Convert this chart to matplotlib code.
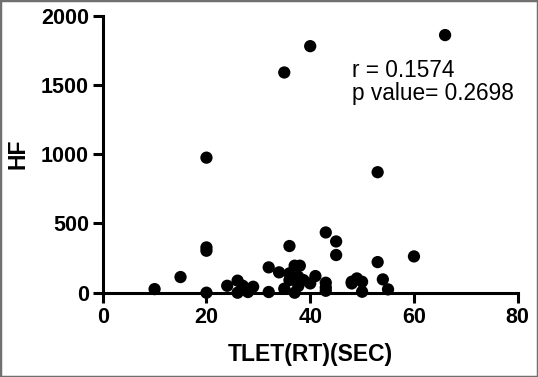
import numpy as np
import matplotlib
matplotlib.use('Agg')
import matplotlib.pyplot as plt
from matplotlib.patches import Rectangle

# values
tlet = [66, 40, 35, 20, 53, 43, 45, 36, 20, 20, 45, 60, 53, 15, 10, 20,
        32, 34, 37, 38, 36, 36, 37.7, 38.7, 40, 41, 43, 43, 43,
        24, 26, 26, 27, 28, 29, 32, 35, 37, 37.7, 48, 49, 50, 48, 50, 54, 55]
hf = [1860, 1780, 1590, 975, 870, 435, 370, 337, 327, 303, 272, 262, 221, 113, 26, 0,
      183, 147, 195, 195, 140, 91, 115, 91, 67, 120, 72, 38, 14,
      50, 87, 0, 50, 5, 43, 5, 29, 0, 48, 79, 103, 79, 67, 7, 96, 24]
x_ticks = [0, 20, 40, 60, 80]
y_ticks = [0, 500, 1000, 1500, 2000]
r_text = "r = 0.1574"
p_text = "p value= 0.2698"

plt.rcParams['font.family'] = ['Liberation Sans', 'DejaVu Sans']

fig = plt.figure(figsize=(5.38, 3.77), dpi=100)
ax = fig.add_axes([0.1909, 0.2236, 0.7714, 0.7348])

ax.scatter(tlet, hf, s=78, color='black', edgecolors='none', zorder=3, clip_on=False)

ax.set_xlim(0, 80)
ax.set_ylim(0, 2000)
ax.set_xticks(x_ticks)
ax.set_yticks(y_ticks)
for s in ['top', 'right']:
    ax.spines[s].set_visible(False)
for s in ['left', 'bottom']:
    ax.spines[s].set_linewidth(2.2)
ax.tick_params(width=2.2, length=7, labelsize=15.5, pad=3)
for lab in ax.get_xticklabels() + ax.get_yticklabels():
    lab.set_fontweight('bold')

ax.set_xlabel('TLET(RT)(SEC)', fontsize=16.5, fontweight='bold', labelpad=11)
ax.set_ylabel('HF', fontsize=16.5, fontweight='bold', labelpad=8)

ax.text(48, 1560, r_text, fontsize=16.3)
ax.text(48, 1390, p_text, fontsize=16.3)

# grey frame round the picture
fig.patches.append(Rectangle((0, 0), 1, 1, transform=fig.transFigure,
                             fill=False, edgecolor='#707070', linewidth=2.5))

fig.savefig('out.png', dpi=100)
